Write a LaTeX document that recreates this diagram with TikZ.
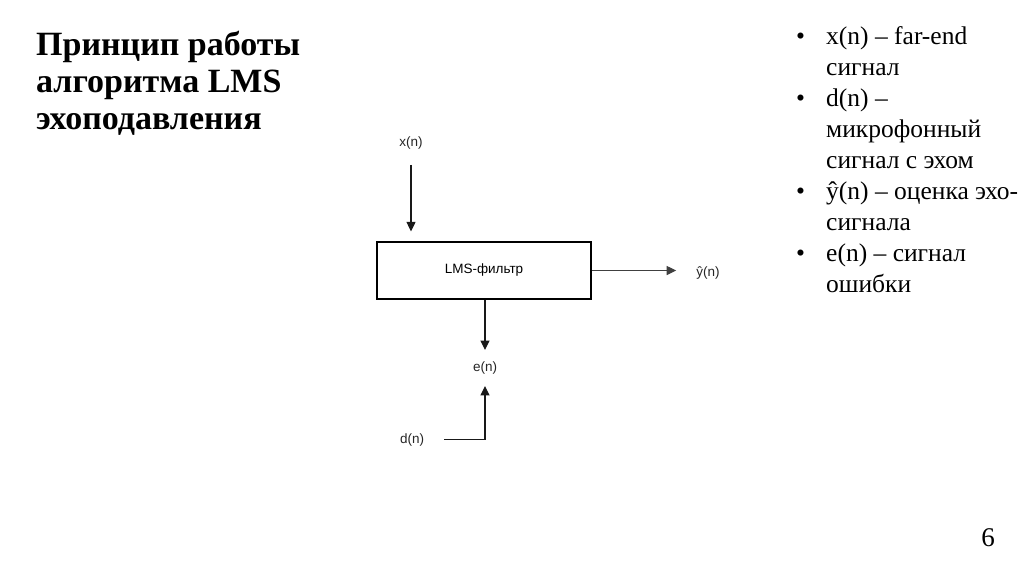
\documentclass[tikz,border=0pt]{standalone}
\usepackage{fontspec}
\setmainfont{Liberation Serif}
\setsansfont{Liberation Sans}
\usetikzlibrary{arrows.meta}
\tikzset{
  sig/.style={font=\sffamily\fontsize{13.5}{15}\selectfont, inner sep=0pt, text=black!85},
  arr/.style={draw=black!90, line width=1.1pt, -{Triangle[length=9.5pt,width=9pt]}},
  blk/.style={draw=black, line width=1.2pt, minimum width=214pt, minimum height=57pt, inner sep=0pt, font=\sffamily\fontsize{13.5}{15}\selectfont},
  ttl/.style={font=\bfseries\fontsize{34}{37}\selectfont, anchor=base west, inner sep=0pt},
  bl/.style={font=\fontsize{25.5}{31}\selectfont, anchor=base west, inner sep=0pt},
}
\begin{document}
\begin{tikzpicture}[x=1pt,y=-1pt]
\useasboundingbox[fill=white] (0,0) rectangle (1024,574);
% title
\node[ttl] (t1) at (36,55) {Принцип работы};
\node[ttl] (t2) at (36,92) {алгоритма LMS};
\node[ttl] (t3) at (36,129) {эхоподавления};
% bullets
\node[bl] (b1) at (796,44) {•};
\node[bl] (l1) at (826,44) {x(n) – far-end};
\node[bl] (l2) at (826,75) {сигнал};
\node[bl] (b2) at (796,106) {•};
\node[bl] (l3) at (826,106) {d(n) –};
\node[bl] (l4) at (826,137) {микрофонный};
\node[bl] (l5) at (826,168) {сигнал с эхом};
\node[bl] (b3) at (796,199) {•};
\node[bl] (l6) at (826,199) {ŷ(n) – оценка эхо-};
\node[bl] (l7) at (826,230) {сигнала};
\node[bl] (b4) at (796,261) {•};
\node[bl] (l8) at (826,261) {e(n) – сигнал};
\node[bl] (l9) at (826,292) {ошибки};
% page number
\node[font=\fontsize{27}{30}\selectfont, anchor=base, inner sep=0pt] (pg) at (988,546) {6};
% diagram
\node[blk] (box) at (484,270.5) {LMS-фильтр};
\node[sig] (x) at (411,143.5) {x(n)};
\node[sig] (y) at (708,272.5) {ŷ(n)};
\node[sig] (e) at (485,367.5) {e(n)};
\node[sig] (d) at (412,439.5) {d(n)};
\draw[arr, shorten <=15pt, shorten >=10pt] (x.south) -- (x.south |- box.north);
\draw[arr, draw=black!75, shorten >=20pt] (box.east) -- (y.west |- box.east);
\draw[arr, shorten >=11pt] (box.south -| e.north) -- (e.north);
\draw[arr, shorten <=20pt, shorten >=12pt] (d.east) -| (e.south);
\end{tikzpicture}
\end{document}
